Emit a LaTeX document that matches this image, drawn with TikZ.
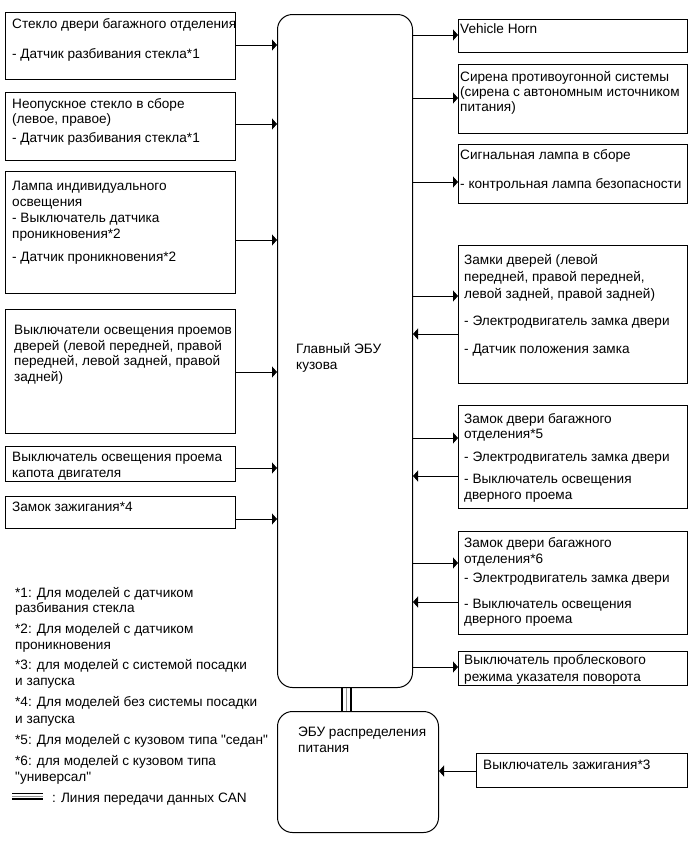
\documentclass[tikz,border=0pt]{standalone}
\usepackage{fontspec}
\setmainfont{Liberation Sans}[Ligatures=TeXOff]
\usetikzlibrary{arrows.meta}
\definecolor{cangray}{RGB}{150,150,150}
\tikzset{
  box/.style={draw=black, line width=0.9pt},
  ecu/.style={draw=black, line width=1pt, rounded corners=15pt},
  arr/.style={draw=black, line width=0.9pt, -{Triangle[length=5pt,width=11pt]}},
  lbl/.style={inner sep=0pt, anchor=west, yshift=-2.5pt, font=\fontsize{13.6}{16}\selectfont, text height=9.8pt, text depth=2.8pt},
}
\newcommand\myline[4]{\node[lbl] (#1) at (#2,#3) {#4};}
\begin{document}
\begin{tikzpicture}[x=1pt,y=-1pt]
\useasboundingbox (0,0) rectangle (691,854);
% central ECUs
\node[ecu, minimum width=135pt, minimum height=673pt, anchor=north west] (main) at (277,14) {};
\node[ecu, minimum width=161pt, minimum height=121pt, anchor=north west] (pwr) at (277,711) {};
% left boxes
\node[box, minimum width=230pt, minimum height=67pt, anchor=north west] (L1) at (5,12) {};
\node[box, minimum width=230pt, minimum height=68pt, anchor=north west] (L2) at (5,92) {};
\node[box, minimum width=230pt, minimum height=122pt, anchor=north west] (L3) at (5,171) {};
\node[box, minimum width=230pt, minimum height=124pt, anchor=north west] (L4) at (5,309) {};
\node[box, minimum width=230pt, minimum height=35pt, anchor=north west] (L5) at (5,446) {};
\node[box, minimum width=230pt, minimum height=32pt, anchor=north west] (L6) at (5,496) {};
% right boxes
\node[box, minimum width=229pt, minimum height=33pt, anchor=north west] (R1) at (458,19) {};
\node[box, minimum width=229pt, minimum height=69pt, anchor=north west] (R2) at (458,64) {};
\node[box, minimum width=229pt, minimum height=59pt, anchor=north west] (R3) at (458,144) {};
\node[box, minimum width=229pt, minimum height=138pt, anchor=north west] (R4) at (458,245) {};
\node[box, minimum width=229pt, minimum height=103pt, anchor=north west] (R5) at (458,405) {};
\node[box, minimum width=229pt, minimum height=103pt, anchor=north west] (R6) at (458,531) {};
\node[box, minimum width=229pt, minimum height=34pt, anchor=north west] (R7) at (458,651) {};
\node[box, minimum width=211pt, minimum height=34pt, anchor=north west] (R8) at (476,753) {};
% left arrows
\draw[arr] (L1.east |- 0,45) -- (main.west |- 0,45);
\draw[arr] (L2.east |- 0,124) -- (main.west |- 0,124);
\draw[arr] (L3.east |- 0,240) -- (main.west |- 0,240);
\draw[arr] (L4.east |- 0,372) -- (main.west |- 0,372);
\draw[arr] (L5.east |- 0,468) -- (main.west |- 0,468);
\draw[arr] (L6.east |- 0,519) -- (main.west |- 0,519);
% right arrows
\draw[arr] (main.east |- 0,35) -- (R1.west |- 0,35);
\draw[arr] (main.east |- 0,98) -- (R2.west |- 0,98);
\draw[arr] (main.east |- 0,182) -- (R3.west |- 0,182);
\draw[arr] (main.east |- 0,296) -- (R4.west |- 0,296);
\draw[arr] (R4.west |- 0,334) -- (main.east |- 0,334);
\draw[arr] (main.east |- 0,438) -- (R5.west |- 0,438);
\draw[arr] (R5.west |- 0,476) -- (main.east |- 0,476);
\draw[arr] (main.east |- 0,563) -- (R6.west |- 0,563);
\draw[arr] (R6.west |- 0,602) -- (main.east |- 0,602);
\draw[arr] (main.east |- 0,667) -- (R7.west |- 0,667);
\draw[arr] (R8.west |- 0,771) -- (pwr.east |- 0,771);
% CAN line
\draw[line width=2.6pt] (main.south -| 342,0) -- (pwr.north -| 342,0);
\draw[line width=1.6pt, cangray] (main.south -| 346.5,0) -- (pwr.north -| 346.5,0);
\draw[line width=2.6pt] (main.south -| 351,0) -- (pwr.north -| 351,0);
% texts left
\myline{t11}{12}{22}{Стекло двери багажного отделения}
\myline{t12}{12}{52}{- Датчик разбивания стекла*1}
\myline{t21}{12}{102}{Неопускное стекло в сборе}
\myline{t22}{12}{117}{(левое, правое)}
\myline{t23}{12}{136}{- Датчик разбивания стекла*1}
\myline{t31}{12}{184}{Лампа индивидуального}
\myline{t32}{12}{200}{освещения}
\myline{t33}{12}{216}{- Выключатель датчика}
\myline{t34}{12}{232}{проникновения*2}
\myline{t35}{12}{255}{- Датчик проникновения*2}
\myline{t41}{14}{328}{Выключатели освещения проемов}
\myline{t42}{14}{344}{дверей (левой передней, правой}
\myline{t43}{14}{359}{передней, левой задней, правой}
\myline{t44}{14}{375}{задней)}
\myline{t51}{12}{455}{Выключатель освещения проема}
\myline{t52}{12}{471}{капота двигателя}
\myline{t61}{12}{505}{Замок зажигания*4}
% central texts
\myline{tm1}{296}{347}{Главный ЭБУ}
\myline{tm2}{296}{363}{кузова}
\myline{tp1}{298}{730}{ЭБУ распределения}
\myline{tp2}{298}{746}{питания}
% right texts
\myline{r11}{460}{27}{Vehicle Horn}
\myline{r21}{460}{75}{Сирена противоугонной системы}
\myline{r22}{460}{90}{(сирена с автономным источником}
\myline{r23}{460}{105}{питания)}
\myline{r31}{460}{153}{Сигнальная лампа в сборе}
\myline{r32}{460}{182}{- контрольная лампа безопасности}
\myline{r41}{464}{258}{Замки дверей (левой}
\myline{r42}{464}{275}{передней, правой передней,}
\myline{r43}{464}{292}{левой задней, правой задней)}
\myline{r44}{464}{319}{- Электродвигатель замка двери}
\myline{r45}{464}{347}{- Датчик положения замка}
\myline{r51}{464}{417}{Замок двери багажного}
\myline{r52}{464}{432}{отделения*5}
\myline{r53}{464}{455}{- Электродвигатель замка двери}
\myline{r54}{464}{477}{- Выключатель освещения}
\myline{r55}{464}{493}{дверного проема}
\myline{r61}{464}{541}{Замок двери багажного}
\myline{r62}{464}{557}{отделения*6}
\myline{r63}{464}{576}{- Электродвигатель замка двери}
\myline{r64}{464}{602}{- Выключатель освещения}
\myline{r65}{464}{617}{дверного проема}
\myline{r71}{464}{658}{Выключатель проблескового}
\myline{r72}{464}{675}{режима указателя поворота}
\myline{r81}{483}{763}{Выключатель зажигания*3}
% footnotes
\myline{f11}{15}{591}{*1: Для моделей с датчиком}
\myline{f12}{15}{606}{разбивания стекла}
\myline{f21}{15}{627}{*2: Для моделей с датчиком}
\myline{f22}{15}{643}{проникновения}
\myline{f31}{15}{663}{*3: для моделей с системой посадки}
\myline{f32}{15}{679}{и запуска}
\myline{f41}{15}{700}{*4: Для моделей без системы посадки}
\myline{f42}{15}{717}{и запуска}
\myline{f51}{15}{738}{*5: Для моделей с кузовом типа "седан"}
\myline{f61}{15}{759}{*6: для моделей с кузовом типа}
\myline{f62}{15}{775}{"универсал"}
% legend
\coordinate (lgA) at (12,793.5);
\coordinate (lgB) at (43,793.5);
\draw[line width=1.6pt] (lgA) -- (lgB);
\draw[line width=1.4pt, cangray] ([yshift=-2.8pt]lgA) -- ([yshift=-2.8pt]lgB);
\draw[line width=1.8pt] ([yshift=-5.4pt]lgA) -- ([yshift=-5.4pt]lgB);
\myline{lg}{52}{796}{: Линия передачи данных CAN}
\end{tikzpicture}
\end{document}
